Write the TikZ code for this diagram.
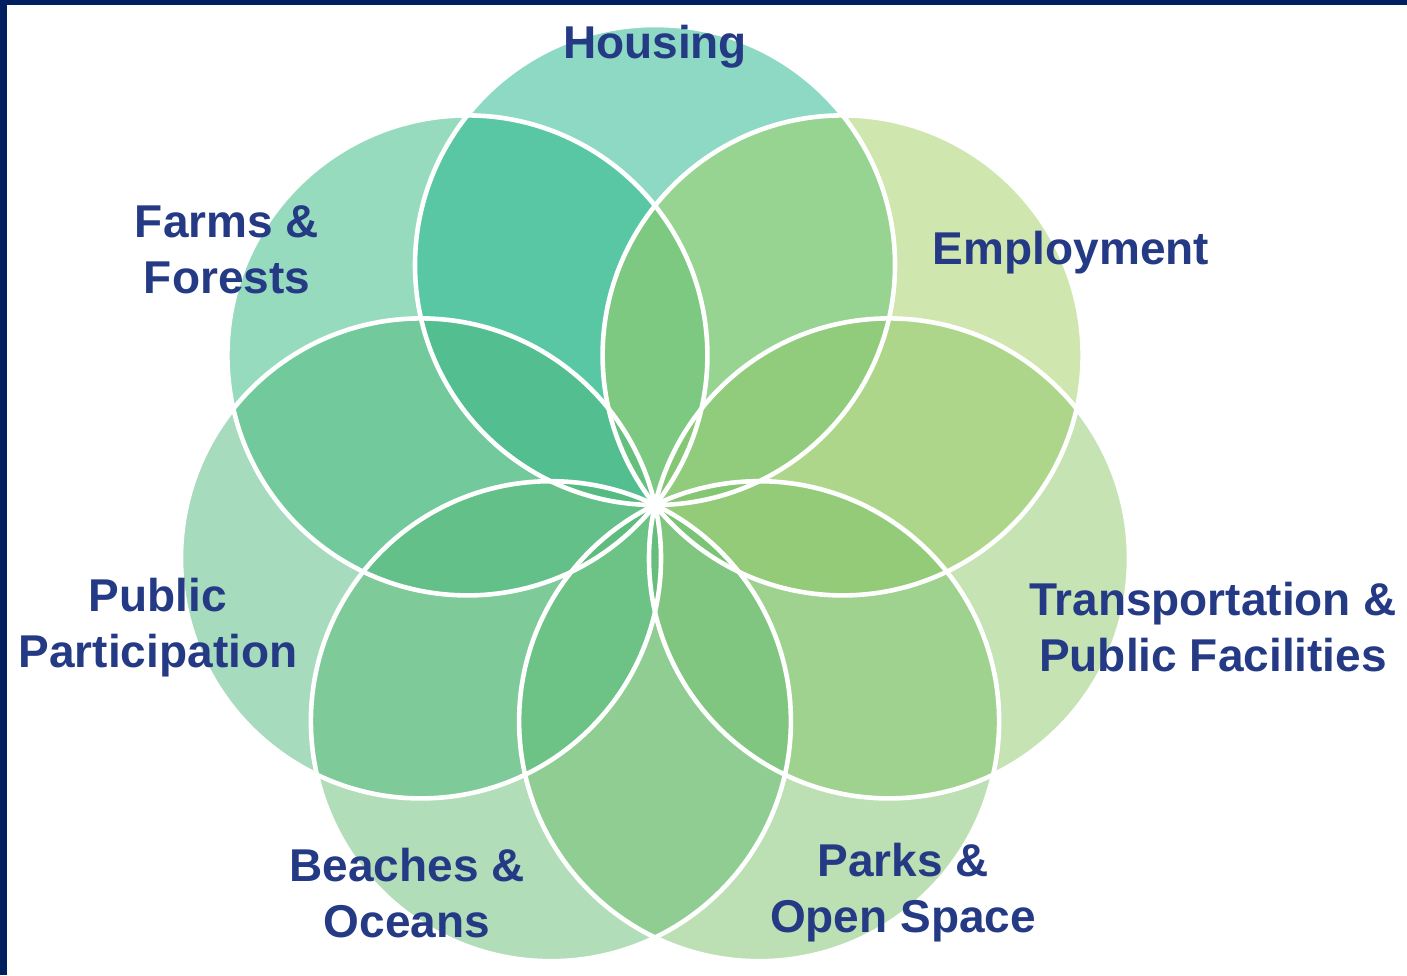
\documentclass[tikz,border=0pt]{standalone}
\usepackage{fontspec}
\setmainfont{Liberation Sans}
\definecolor{navyframe}{RGB}{0,32,96}
\definecolor{labelblue}{RGB}{37,58,133}
\definecolor{cHousing}{RGB}{29,179,137}
\definecolor{cEmploy}{RGB}{161,205,95}
\definecolor{cTransp}{RGB}{141,199,105}
\definecolor{cParks}{RGB}{121,193,105}
\definecolor{cBeach}{RGB}{101,187,115}
\definecolor{cPublic}{RGB}{77,183,123}
\definecolor{cFarms}{RGB}{47,183,127}
\tikzset{
  petal/.style={fill=#1, fill opacity=0.5},
  petalline/.style={draw=white, line width=2.3pt},
  lbl/.style={text=labelblue, font=\fontsize{23pt}{28pt}\selectfont\bfseries, align=center, inner sep=0pt}
}
\begin{document}
\begin{tikzpicture}[x=0.5pt,y=-0.5pt]
\useasboundingbox (0,0) rectangle (1407,975);
\coordinate (cF) at (467.4,355.4);
\coordinate (cH) at (655,265);
\coordinate (cE) at (842.6,355.4);
\coordinate (cT) at (889.0,558.4);
\coordinate (cP) at (759.1,721.2);
\coordinate (cB) at (550.9,721.2);
\coordinate (cU) at (421.0,558.4);
% fills
\fill[petal=cFarms]   (cF) circle[radius=120pt];
\fill[petal=cHousing] (cH) circle[radius=120pt];
\fill[petal=cEmploy]  (cE) circle[radius=120pt];
\fill[petal=cTransp]  (cT) circle[radius=120pt];
\fill[petal=cParks]   (cP) circle[radius=120pt];
\fill[petal=cBeach]   (cB) circle[radius=120pt];
\fill[petal=cPublic]  (cU) circle[radius=120pt];
% outlines
\foreach \c in {cF,cH,cE,cT,cP,cB,cU}
  \draw[petalline] (\c) circle[radius=120pt];
% frame
\fill[navyframe] (0,0) rectangle (1407,5);
\fill[navyframe] (0,0) rectangle (7,975);
% labels
\node[lbl] (housing) at (655,47) {Housing};
\node[lbl] (farms) at (227,250) {Farms \&\\Forests};
\node[lbl] (employ) at (1071,253) {Employment};
\node[lbl] (transp) at (1213,627) {Transportation \&\\Public Facilities};
\node[lbl] (public) at (158,628) {Public\\Participation};
\node[lbl] (beach) at (407,893) {Beaches \&\\Oceans};
\node[lbl] (parks) at (903,893) {Parks \&\\Open Space};
\end{tikzpicture}
\end{document}
